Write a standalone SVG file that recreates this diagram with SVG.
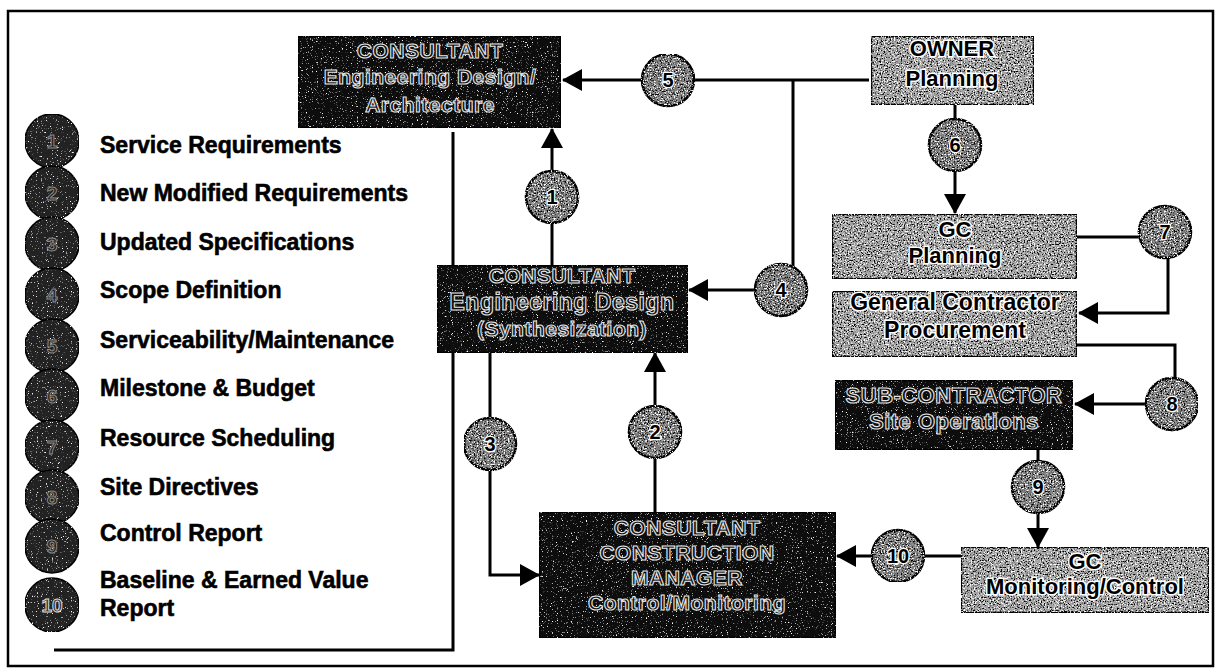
<svg xmlns="http://www.w3.org/2000/svg" width="1219" height="670" viewBox="0 0 1219 670">
<style>
.frame{fill:none;stroke:#000;stroke-width:2.5}
.ln{fill:none;stroke:#000;stroke-width:3}
.light{fill:#a3a3a3;stroke:#000;stroke-width:2.5}
.dark{fill:#0d0d0d;stroke:#000;stroke-width:2.5}
.cir{fill:#7e7e7e;stroke:#000;stroke-width:2.5}
.lcir{fill:#222;stroke:#000;stroke-width:1.5}
.lt{font-family:"Liberation Sans",Arial,sans-serif;font-weight:bold;font-size:22px;fill:#000;stroke:#fff;stroke-width:3px;paint-order:stroke;text-anchor:middle}
.dt{font-family:"Liberation Sans",Arial,sans-serif;font-weight:bold;font-size:21px;fill:#0d0d0d;stroke:#e6e6e6;stroke-width:1.1px;text-anchor:middle;letter-spacing:0.5px}
.num{font-family:"Liberation Sans",Arial,sans-serif;font-weight:bold;font-size:20px;fill:#000;stroke:#fff;stroke-width:2.5px;paint-order:stroke;text-anchor:middle}
.lnum{font-family:"Liberation Sans",Arial,sans-serif;font-weight:bold;font-size:19px;fill:#222;stroke:#8a8a8a;stroke-width:1px;text-anchor:middle}
.leg{font-family:"Liberation Sans",Arial,sans-serif;font-weight:bold;font-size:23px;fill:#000;stroke:#000;stroke-width:0.6px}
</style>
<defs>
<marker id="ah" markerWidth="20" markerHeight="22" refX="19" refY="11" orient="auto" markerUnits="userSpaceOnUse">
<path d="M0,0 L20,11 L0,22 z" fill="#000"/>
</marker>
<filter id="speck" x="0" y="0" width="100%" height="100%" color-interpolation-filters="sRGB">
<feTurbulence type="fractalNoise" baseFrequency="0.7" numOctaves="2" seed="5" result="n"/>
<feColorMatrix in="n" type="matrix" values="0 0 0 0 0  0 0 0 0 0  0 0 0 0 0  6 0 0 0 -3.3" result="blk"/>
<feColorMatrix in="n" type="matrix" values="0 0 0 0 1  0 0 0 0 1  0 0 0 0 1  -6 0 0 0 2.7" result="wht"/>
<feComposite in="blk" in2="SourceAlpha" operator="in" result="b2"/>
<feComposite in="wht" in2="SourceAlpha" operator="in" result="w2"/>
<feMerge><feMergeNode in="SourceGraphic"/><feMergeNode in="b2"/><feMergeNode in="w2"/></feMerge>
</filter>
<filter id="speckD" x="0" y="0" width="100%" height="100%" color-interpolation-filters="sRGB">
<feTurbulence type="fractalNoise" baseFrequency="0.8" numOctaves="2" seed="9" result="n"/>
<feColorMatrix in="n" type="matrix" values="0 0 0 0 1  0 0 0 0 1  0 0 0 0 1  -6 0 0 0 2.2" result="wht"/>
<feComposite in="wht" in2="SourceAlpha" operator="in" result="w2"/>
<feMerge><feMergeNode in="SourceGraphic"/><feMergeNode in="w2"/></feMerge>
</filter>
</defs>
<rect width="1219" height="670" fill="#fff"/>
<rect class="frame" x="8" y="11" width="1205" height="655"/>

<g id="legend">
<path class="ln" d="M453,132 V650 H54"/>
<g filter="url(#speckD)">
<circle class="lcir" cx="52" cy="141" r="27"/>
<circle class="lcir" cx="52" cy="193" r="27"/>
<circle class="lcir" cx="52" cy="244" r="27"/>
<circle class="lcir" cx="52" cy="295" r="27"/>
<circle class="lcir" cx="52" cy="346" r="27"/>
<circle class="lcir" cx="52" cy="396" r="27"/>
<circle class="lcir" cx="52" cy="447" r="27"/>
<circle class="lcir" cx="52" cy="497" r="27"/>
<circle class="lcir" cx="52" cy="546" r="27"/>
<circle class="lcir" cx="52" cy="605" r="27"/>
</g>
<text class="lnum" x="52" y="148">1</text>
<text class="lnum" x="52" y="200">2</text>
<text class="lnum" x="52" y="251">3</text>
<text class="lnum" x="52" y="302">4</text>
<text class="lnum" x="52" y="353">5</text>
<text class="lnum" x="52" y="403">6</text>
<text class="lnum" x="52" y="454">7</text>
<text class="lnum" x="52" y="504">8</text>
<text class="lnum" x="52" y="553">9</text>
<text class="lnum" x="52" y="612" style="fill:#333;stroke:#ddd">10</text>
<text class="leg" x="100" y="153">Service Requirements</text>
<text class="leg" x="100" y="201">New Modified Requirements</text>
<text class="leg" x="100" y="250">Updated Specifications</text>
<text class="leg" x="100" y="298">Scope Definition</text>
<text class="leg" x="100" y="348">Serviceability/Maintenance</text>
<text class="leg" x="100" y="396">Milestone &amp; Budget</text>
<text class="leg" x="100" y="446">Resource Scheduling</text>
<text class="leg" x="100" y="495">Site Directives</text>
<text class="leg" x="100" y="541">Control Report</text>
<text class="leg" x="100" y="588">Baseline &amp; Earned Value</text>
<text class="leg" x="100" y="616">Report</text>
</g>

<g id="connectors">
<path class="ln" d="M869,80 H563" marker-end="url(#ah)"/>
<path class="ln" d="M793,80 V290 H689" marker-end="url(#ah)"/>
<path class="ln" d="M552,265 V129" marker-end="url(#ah)"/>
<path class="ln" d="M655,512 V353" marker-end="url(#ah)"/>
<path class="ln" d="M490,352 V575 H539" marker-end="url(#ah)"/>
<path class="ln" d="M955,105 V213" marker-end="url(#ah)"/>
<path class="ln" d="M1077,237 H1168 V313 H1079" marker-end="url(#ah)"/>
<path class="ln" d="M1077,345 H1175 V404 H1075" marker-end="url(#ah)"/>
<path class="ln" d="M1038,450 V547" marker-end="url(#ah)"/>
<path class="ln" d="M961,556 H837" marker-end="url(#ah)"/>
</g>

<g id="consultant-design">
<rect class="dark" filter="url(#speckD)" x="298" y="36" width="263" height="92"/>
<text class="dt" x="430" y="58">CONSULTANT</text>
<text class="dt" x="430" y="84">Engineering Design/</text>
<text class="dt" x="430" y="112">Architecture</text>
</g>
<g id="owner">
<rect class="light" filter="url(#speck)" x="871" y="36" width="163" height="69"/>
<text class="lt" x="952" y="56">OWNER</text>
<text class="lt" x="952" y="86">Planning</text>
</g>
<g id="gc-planning">
<rect class="light" filter="url(#speck)" x="832" y="214" width="245" height="65"/>
<text class="lt" x="955" y="237">GC</text>
<text class="lt" x="955" y="263">Planning</text>
</g>
<g id="gc-procurement">
<rect class="light" filter="url(#speck)" x="832" y="291" width="245" height="66"/>
<text class="lt" x="955" y="310" style="font-size:23px">General Contractor</text>
<text class="lt" x="955" y="338" style="font-size:23px">Procurement</text>
</g>
<g id="subcontractor">
<rect class="dark" filter="url(#speckD)" x="835" y="380" width="238" height="70"/>
<text class="dt" x="954" y="403" style="font-size:22px">SUB-CONTRACTOR</text>
<text class="dt" x="954" y="429" style="font-size:22px">Site Operations</text>
</g>
<g id="gc-monitoring">
<rect class="light" filter="url(#speck)" x="961" y="547" width="248" height="66"/>
<text class="lt" x="1085" y="569">GC</text>
<text class="lt" x="1085" y="594">Monitoring/Control</text>
</g>
<g id="consultant-synthesization">
<rect class="dark" filter="url(#speckD)" x="437" y="265" width="251" height="88"/>
<text class="dt" x="562" y="283">CONSULTANT</text>
<text class="dt" x="562" y="310" style="font-size:23px">Engineering Design</text>
<text class="dt" x="562" y="336">(Synthesization)</text>
</g>
<g id="consultant-cm">
<rect class="dark" filter="url(#speckD)" x="539" y="512" width="297" height="126"/>
<text class="dt" x="687" y="535">CONSULTANT</text>
<text class="dt" x="687" y="560">CONSTRUCTION</text>
<text class="dt" x="687" y="585">MANAGER</text>
<text class="dt" x="687" y="610">Control/Monitoring</text>
</g>

<g id="flow-labels">
<g filter="url(#speck)">
<circle class="cir" cx="668" cy="80" r="26"/>
<circle class="cir" cx="781" cy="290" r="26"/>
<circle class="cir" cx="552" cy="197" r="26"/>
<circle class="cir" cx="655" cy="432" r="26"/>
<circle class="cir" cx="490" cy="444" r="26"/>
<circle class="cir" cx="955" cy="145" r="26"/>
<circle class="cir" cx="1165" cy="232" r="26"/>
<circle class="cir" cx="1172" cy="404" r="26"/>
<circle class="cir" cx="1038" cy="487" r="26"/>
<circle class="cir" cx="898" cy="556" r="26"/>
</g>
<text class="num" x="668" y="87">5</text>
<text class="num" x="781" y="297">4</text>
<text class="num" x="552" y="204">1</text>
<text class="num" x="655" y="439">2</text>
<text class="num" x="490" y="451">3</text>
<text class="num" x="955" y="152">6</text>
<text class="num" x="1165" y="239">7</text>
<text class="num" x="1172" y="411">8</text>
<text class="num" x="1038" y="494">9</text>
<text class="num" x="898" y="563">10</text>
</g>
</svg>
